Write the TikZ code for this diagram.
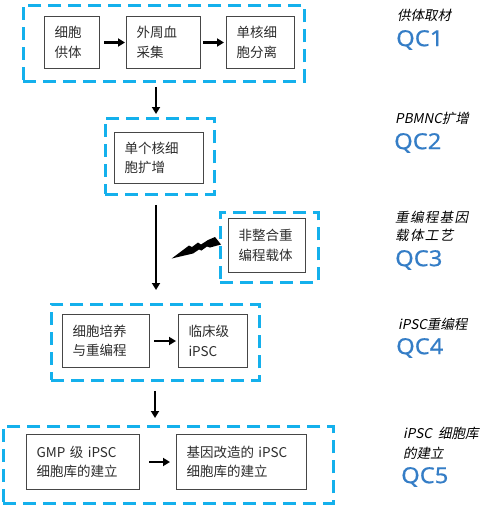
\documentclass[tikz,border=0pt]{standalone}
\usepackage{fontspec}
\setmainfont{Noto Sans CJK SC}
\newfontfamily\cjkit[FakeSlant=0.2]{Noto Sans CJK SC}
\newfontfamily\cjkitsp[FakeSlant=0.2,LetterSpace=10]{Noto Sans CJK SC}
\newfontfamily\qcfont[FakeStretch=1.08,FakeBold=0.6]{Noto Sans}
\usetikzlibrary{arrows.meta}
\definecolor{cyanc}{RGB}{20,176,236}
\definecolor{qcblue}{RGB}{52,125,198}
\definecolor{boxgray}{RGB}{70,70,70}
\definecolor{textgray}{RGB}{45,45,45}
\begin{document}
\begin{tikzpicture}[x=1pt,y=-1pt,
  grp/.style={draw=cyanc, line width=2.8pt, dash pattern=on 13pt off 7pt, inner sep=0pt, anchor=north west},
  box/.style={draw=boxgray, line width=1pt, fill=white, align=left, inner xsep=10pt, inner ysep=0pt,
    anchor=north west, font=\fontsize{13.5}{19.5}\selectfont, text=textgray},
  flow/.style={line width=2.4pt, -{Triangle[length=7pt,width=8pt]}},
  lab/.style={anchor=west, inner sep=0pt, align=left, font=\cjkit\fontsize{13.5}{18}\selectfont},
  qc/.style={anchor=west, inner sep=0pt, text=qcblue, font=\qcfont\fontsize{22}{24}\selectfont}]
\useasboundingbox (0,0) rectangle (492,514);
% groups
\node[grp, minimum width=281pt, minimum height=76pt] (g1) at (22,4) {};
\node[grp, minimum width=109pt, minimum height=76pt] (g2) at (104,117) {};
\node[grp, minimum width=98pt, minimum height=70pt] (g3) at (219,211) {};
\node[grp, minimum width=208pt, minimum height=76pt] (g4) at (50,303) {};
\node[grp, minimum width=330pt, minimum height=77pt] (g5) at (2,425) {};
% boxes
\node[box, text width=35pt, minimum height=52pt] (b1) at (44,16) {细胞\\供体};
\node[box, text width=54pt, minimum height=52pt] (b2) at (126,16) {外周血\\采集};
\node[box, text width=48pt, minimum height=52pt] (b3) at (226,16) {单核细\\胞分离};
\node[box, text width=69pt, minimum height=51pt] (b4) at (114,132) {单个核细\\胞扩增};
\node[box, text width=57pt, minimum height=54pt] (b5) at (228,218) {非整合重\\编程载体};
\node[box, text width=67pt, minimum height=53pt] (b6) at (62,314) {细胞培养\\与重编程};
\node[box, text width=49pt, minimum height=53pt] (b7) at (178,314) {临床级\\iPSC};
\node[box, text width=93pt, minimum height=55pt] (b8) at (26,434) {GMP 级 iPSC\\细胞库的建立};
\node[box, text width=110pt, minimum height=55pt] (b9) at (176,434) {基因改造的 iPSC\\细胞库的建立};
% horizontal arrows
\draw[flow] ([xshift=4pt]b1.east) -- ([xshift=-1pt]b2.west);
\draw[flow] ([xshift=2pt]b2.east) -- ([xshift=-2pt]b3.west);
\draw[flow] ([xshift=4pt]b6.east) -- ([xshift=-2pt]b7.west);
\draw[flow] ([xshift=9pt]b8.east) -- ([xshift=-6pt]b9.west);
% vertical arrows
\coordinate (spine) at (156,0);
\coordinate (spine2) at (155,0);
\draw[flow] ([yshift=-4pt]g1.south -| spine) -- ([yshift=3pt]g2.north -| spine);
\draw[flow] ([yshift=-9pt]g2.south -| spine) -- ([yshift=13pt]g4.north -| spine);
\draw[flow] ([yshift=-9pt]g4.south -| spine2) -- ([yshift=7pt]g5.north -| spine2);
% lightning
\fill (171.7,258.5) -- (189,245.5) -- (192,247) -- (198,242.5) -- (201,244.5) -- (208,240)
  -- (215,237) -- (221,244.5) -- (210,247.5) -- (207,246.5) -- (201.5,250.5) -- (199,249.5)
  -- (193,253.5) -- cycle;
% right labels
\node[lab] (l1) at (397,15) {供体取材};
\node[qc] (q1) at (396,40) {QC1};
\node[lab] (l2) at (395,118) {PBMNC扩增};
\node[qc] (q2) at (394,143) {QC2};
\node[lab, font=\cjkitsp\fontsize{13.5}{18}\selectfont] (l3) at (395,226) {重编程基因\\载体工艺};
\node[qc] (q3) at (395,260) {QC3};
\node[lab] (l4) at (398,324) {iPSC重编程};
\node[qc] (q4) at (396,348) {QC4};
\node[lab, font=\cjkit\fontsize{13.5}{20}\selectfont] (l5) at (403,443) {iPSC\ \ 细胞库\\的建立};
\node[qc] (q5) at (401,477) {QC5};
\end{tikzpicture}
\end{document}
